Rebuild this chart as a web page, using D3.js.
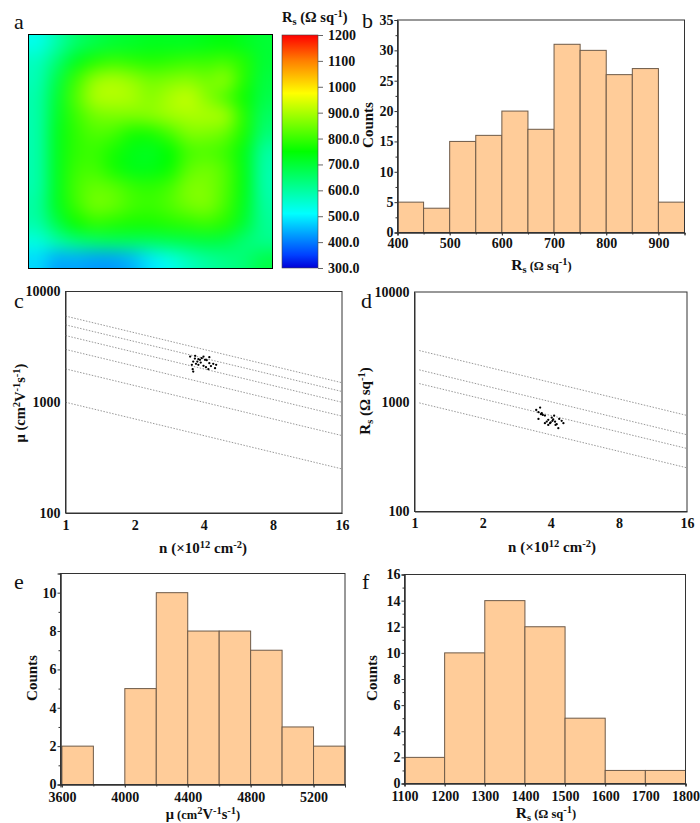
<!DOCTYPE html>
<html>
<head>
<meta charset="utf-8">
<script src="https://cdn.jsdelivr.net/npm/d3@7"></script>
<style>
  html, body { margin: 0; padding: 0; background: #fff; }
  svg { display: block; }
  text { font-family: "Liberation Serif", "Times New Roman", serif; font-weight: 700; fill: #111; }
</style>
</head>
<body>
<svg id="chart" width="700" height="823"></svg>
<script>
// Panel a: sheet resistance map
const mapValues = [
  [530, 590, 650, 680, 700, 710, 720, 720, 720, 730, 740, 720, 700],
  [570, 640, 720, 780, 800, 790, 780, 790, 800, 800, 810, 780, 700],
  [580, 680, 800, 880, 900, 880, 850, 860, 870, 850, 870, 780, 690],
  [590, 700, 820, 900, 910, 900, 870, 900, 920, 870, 820, 760, 680],
  [590, 710, 800, 850, 860, 860, 870, 890, 900, 900, 890, 780, 660],
  [590, 720, 790, 820, 810, 770, 770, 810, 860, 860, 840, 770, 640],
  [590, 720, 790, 800, 770, 730, 720, 750, 810, 820, 800, 730, 600],
  [590, 720, 800, 810, 770, 730, 730, 760, 830, 850, 820, 730, 590],
  [590, 720, 810, 840, 830, 800, 790, 810, 860, 860, 820, 730, 590],
  [600, 720, 800, 850, 840, 810, 800, 820, 850, 860, 810, 720, 600],
  [590, 680, 760, 790, 780, 770, 770, 780, 790, 800, 780, 700, 610],
  [540, 590, 630, 650, 660, 660, 660, 670, 680, 690, 680, 640, 620],
  [480, 440, 440, 430, 430, 450, 490, 530, 570, 600, 620, 640, 680],
]
const colorValues = [300, 350, 510, 750, 975, 1100, 1200]
const colorStops = ['#0000d8', '#0040ff', '#00ffff', '#00ff00', '#ffff00', '#ff8000', '#ff0000']
const colorTicks = [300, 400, 500, 600, 700, 800, 900, 1000, 1100, 1200]
const colorTickLabels = ['300.0', '400.0', '500.0', '600.0', '700.0', '800.0', '900.0', '1000', '1100', '1200']

// Panel b
const binsB = [400, 450, 500, 550, 600, 650, 700, 750, 800, 850, 900, 950]
const countsB = [5, 4, 15, 16, 20, 17, 31, 30, 26, 27, 5]
const xTicksB = [400, 500, 600, 700, 800, 900]
const yTicksB = [0, 5, 10, 15, 20, 25, 30, 35]

// Panel c
const lineStartC = [1000, 2000, 3000, 4000, 5000, 6000]
const lineEndC = [250, 500, 750, 1000, 1250, 1500]
const nC = [3.49, 3.67, 3.79, 3.92, 4.05, 4.23, 3.60, 3.70, 3.55, 3.79, 3.99, 4.09, 4.23, 4.40, 4.53, 4.48, 4.19, 3.58, 3.60, 3.85, 3.99, 3.75, 3.88, 4.12, 4.30, 3.66]
const muC = [2586, 2624, 2449, 2500, 2415, 2553, 2330, 2223, 2176, 2176, 2131, 2073, 2254, 2223, 2176, 2031, 1989, 1989, 1892, 2415, 2586, 2330, 2280, 2400, 2120, 2480]

// Panel d
const lineStartD = [1000, 1500, 2000, 3000]
const lineEndD = [250, 375, 500, 750]
const nD = [3.59, 3.45, 3.53, 3.65, 3.77, 3.53, 3.69, 3.90, 4.04, 4.14, 4.18, 3.97, 3.77, 3.90, 4.25, 4.47, 4.55, 4.32, 4.20, 4.07, 4.36, 3.84, 4.00, 4.10, 3.62]
const rsD = [885, 843, 803, 787, 748, 698, 759, 684, 718, 748, 659, 638, 638, 615, 625, 670, 638, 574, 615, 670, 698, 660, 650, 690, 770]

const logXTicks = [1, 2, 4, 8, 16]
const logYTicks = [100, 1000, 10000]

// Panel e
const binsE = [3600, 3800, 4000, 4200, 4400, 4600, 4800, 5000, 5200, 5400]
const countsE = [2, 0, 5, 10, 8, 8, 7, 3, 2]
const xTicksE = [3600, 4000, 4400, 4800, 5200]
const yTicksE = [0, 2, 4, 6, 8, 10]

// Panel f
const binsF = [1100, 1200, 1300, 1400, 1500, 1600, 1700, 1800]
const countsF = [2, 10, 14, 12, 5, 1, 1]
const xTicksF = [1100, 1200, 1300, 1400, 1500, 1600, 1700, 1800]
const yTicksF = [0, 2, 4, 6, 8, 10, 12, 14, 16]

const svg = d3.select('#chart')
const tickSize = 14
const barFill = '#ffcc99'
const barStroke = '#6e5a48'
const spine = '#333'

svg.append('rect').attr('width', 700).attr('height', 823).attr('fill', '#fff')

function panelLetter(letter, x, y) {
  svg.append('text').attr('x', x).attr('y', y)
    .style('font-size', '22px').style('font-weight', 400)
    .text(letter)
}

// parts are [text, 'sub' | 'sup' | 'small' | null]
function richText(sel, parts) {
  let shift = 0
  parts.forEach(([str, kind]) => {
    const target = kind === 'sub' ? 3 : kind === 'sup' ? -5 : 0
    sel.append('tspan')
      .attr('dy', target - shift)
      .style('font-size', kind === 'sub' || kind === 'sup' ? '10.5px' : kind === 'small' ? '12.5px' : null)
      .text(str)
    shift = target
  })
}

function xTitle(parts, x, y, size) {
  const t = svg.append('text').attr('x', x).attr('y', y)
    .attr('text-anchor', 'middle').style('font-size', `${size}px`)
  richText(t, parts)
}

function yTitle(parts, x, y, size) {
  const t = svg.append('text').attr('transform', `translate(${x},${y}) rotate(-90)`)
    .attr('text-anchor', 'middle').style('font-size', `${size}px`)
  richText(t, parts)
}

function styleAxis(g) {
  g.selectAll('.domain').attr('stroke', spine).attr('stroke-width', 1)
  g.selectAll('line').attr('stroke', spine).attr('stroke-width', 1)
  g.selectAll('text').style('font-size', `${tickSize}px`)
    .style('font-family', '"Liberation Serif", serif').style('font-weight', 700).attr('fill', '#111')
}

function frame(box) {
  svg.append('rect')
    .attr('x', box.x0).attr('y', box.y0)
    .attr('width', box.x1 - box.x0).attr('height', box.y1 - box.y0)
    .attr('fill', 'none').attr('stroke', spine).attr('stroke-width', 1)
}

function histogram(box, bins, counts, xDomain, yMax, xTicks, yTicks, yMinorStep, xPad) {
  const x = d3.scaleLinear().domain(xDomain).range([box.x0, box.x1])
  const y = d3.scaleLinear().domain([0, yMax]).range([box.y1, box.y0])

  svg.append('g').selectAll('rect').data(counts).join('rect')
    .attr('x', (d, i) => x(bins[i]))
    .attr('y', d => y(d))
    .attr('width', (d, i) => x(bins[i + 1]) - x(bins[i]))
    .attr('height', d => y(0) - y(d))
    .attr('fill', barFill)
    .attr('stroke', d => d > 0 ? barStroke : 'none')
    .attr('stroke-width', 1)

  frame(box)

  const minors = d3.range(yMinorStep, yMax, yMinorStep * 2)
  svg.append('g').attr('transform', `translate(${box.x0},0)`)
    .call(d3.axisLeft(y).tickValues(minors).tickSize(2).tickFormat(''))
    .call(styleAxis)
  svg.append('g').attr('transform', `translate(${box.x0},0)`)
    .call(d3.axisLeft(y).tickValues(yTicks).tickSize(3).tickPadding(1).tickFormat(d3.format('d')))
    .call(styleAxis)
  svg.append('g').attr('transform', `translate(0,${box.y1})`)
    .call(d3.axisBottom(x).tickValues(bins).tickSize(2).tickFormat(''))
    .call(styleAxis)
  svg.append('g').attr('transform', `translate(0,${box.y1})`)
    .call(d3.axisBottom(x).tickValues(xTicks).tickSize(3).tickPadding(xPad).tickFormat(d3.format('d')))
    .call(styleAxis)
}

function logPanel(box, starts, ends, lineX0, pointsX, pointsY) {
  const x = d3.scaleLog().base(2).domain([1, 16]).range([box.x0, box.x1])
  const y = d3.scaleLog().domain([100, 10000]).range([box.y1, box.y0])

  frame(box)

  svg.append('g').selectAll('line').data(starts).join('line')
    .attr('x1', x(lineX0))
    .attr('y1', d => y(d * Math.pow(lineX0, -0.5)))
    .attr('x2', x(16))
    .attr('y2', (d, i) => y(ends[i]))
    .attr('stroke', '#999')
    .attr('stroke-width', 1)
    .attr('stroke-dasharray', '1.5,1.5')

  svg.append('g').selectAll('circle').data(pointsX).join('circle')
    .attr('cx', d => x(d))
    .attr('cy', (d, i) => y(pointsY[i]))
    .attr('r', 1.15)
    .attr('fill', '#000')

  svg.append('g').attr('transform', `translate(${box.x0},0)`)
    .call(d3.axisLeft(y).tickValues(logYTicks).tickSize(0).tickPadding(5).tickFormat(d3.format('d')))
    .call(styleAxis)
  svg.append('g').attr('transform', `translate(0,${box.y1})`)
    .call(d3.axisBottom(x).tickValues(logXTicks).tickSize(0).tickPadding(7).tickFormat(d3.format('d')))
    .call(styleAxis)
}

// --- Panel a ---
const mapBox = { x0: 28.5, x1: 272.5, y0: 34.5, y1: 268.5 }
const colorScale = d3.scaleLinear().domain(colorValues).range(colorStops).clamp(true)

const cv = document.createElement('canvas')
cv.width = mapValues[0].length
cv.height = mapValues.length
const ctx = cv.getContext('2d')
mapValues.forEach((row, r) => row.forEach((v, c) => {
  ctx.fillStyle = colorScale(v)
  ctx.fillRect(c, r, 1, 1)
}))

// Upscale with smoothing, then blur on top so the grid does not show
const big = document.createElement('canvas')
big.width = 488
big.height = 468
const bigCtx = big.getContext('2d')
bigCtx.imageSmoothingEnabled = true
bigCtx.imageSmoothingQuality = 'high'
bigCtx.drawImage(cv, 0, 0, big.width, big.height)
bigCtx.filter = 'blur(10px)'
bigCtx.drawImage(big, 0, 0)
bigCtx.filter = 'none'

svg.append('image')
  .attr('x', mapBox.x0).attr('y', mapBox.y0)
  .attr('width', mapBox.x1 - mapBox.x0).attr('height', mapBox.y1 - mapBox.y0)
  .attr('preserveAspectRatio', 'none')
  .attr('href', big.toDataURL())
svg.append('rect')
  .attr('x', mapBox.x0).attr('y', mapBox.y0)
  .attr('width', mapBox.x1 - mapBox.x0).attr('height', mapBox.y1 - mapBox.y0)
  .attr('fill', 'none').attr('stroke', '#000').attr('stroke-width', 1)

// Colour bar
const barBox = { x0: 282, x1: 318, y0: 35, y1: 268 }
const barY = d3.scaleLinear().domain([300, 1200]).range([barBox.y1, barBox.y0])
const grad = svg.append('defs').append('linearGradient')
  .attr('id', 'rsGrad').attr('x1', 0).attr('x2', 0).attr('y1', 1).attr('y2', 0)
grad.selectAll('stop').data(colorValues).join('stop')
  .attr('offset', d => (d - 300) / 900)
  .attr('stop-color', (d, i) => colorStops[i])
svg.append('rect')
  .attr('x', barBox.x0).attr('y', barBox.y0)
  .attr('width', barBox.x1 - barBox.x0).attr('height', barBox.y1 - barBox.y0)
  .attr('fill', 'url(#rsGrad)')
  .attr('stroke', '#444').attr('stroke-width', 0.6)
svg.append('g').attr('transform', `translate(${barBox.x1},0)`)
  .call(d3.axisRight(barY).tickValues(colorTicks).tickSize(5).tickPadding(5)
    .tickFormat((d, i) => colorTickLabels[i]))
  .call(g => g.select('.domain').remove())
  .call(styleAxis)
  .call(g => g.selectAll('line').attr('stroke', '#666'))

const mapTitle = svg.append('text').attr('x', 282).attr('y', 22).style('font-size', '14.5px')
richText(mapTitle, [['R', null], ['s', 'sub'], [' (Ω sq', null], ['-1', 'sup'], [')', null]])

// --- Histograms ---
histogram({ x0: 397.5, x1: 684.5, y0: 20, y1: 232.5 }, binsB, countsB, [400, 950], 35, xTicksB, yTicksB, 2.5, 3)
histogram({ x0: 60.5, x1: 345, y0: 573.5, y1: 784.5 }, binsE, countsE, [3591, 5400], 11, xTicksE, yTicksE, 1, 5)
histogram({ x0: 404.5, x1: 685.5, y0: 574.5, y1: 783.5 }, binsF, countsF, [1100, 1800], 16, xTicksF, yTicksF, 1, 5)

// --- Log panels ---
logPanel({ x0: 65.5, x1: 342, y0: 291.5, y1: 513 }, lineStartC, lineEndC, 1, nC, muC)
logPanel({ x0: 414.5, x1: 687, y0: 292, y1: 511.5 }, lineStartD, lineEndD, 1.05, nD, rsD)

// --- Axis titles ---
const rsTitle = [['R', null], ['s', 'sub'], [' (Ω sq', 'small'], ['-1', 'sup'], [')', 'small']]
const rsTitleBig = [['R', null], ['s', 'sub'], [' (Ω sq', null], ['-1', 'sup'], [')', null]]
const nTitle = [['n (×10', null], ['12', 'sup'], [' cm', null], ['-2', 'sup'], [')', null]]
const muTitle = [['μ (cm', null], ['2', 'sup'], ['V', null], ['-1', 'sup'], ['s', null], ['-1', 'sup'], [')', null]]
const muTitleSmall = [['μ', null], [' (cm', 'small'], ['2', 'sup'], ['V', null], ['-1', 'sup'], ['s', null], ['-1', 'sup'], [')', 'small']]

xTitle(rsTitle, 541.5, 270, 15.5)
yTitle([['Counts', null]], 373, 125, 15)
xTitle(nTitle, 203, 553, 15)
yTitle(muTitle, 25, 403, 14.5)
xTitle(nTitle, 552, 552, 15)
yTitle(rsTitleBig, 370, 401, 15)
xTitle(muTitleSmall, 203, 819, 14.5)
yTitle([['Counts', null]], 37, 678, 15)
xTitle(rsTitle, 546, 818, 15.5)
yTitle([['Counts', null]], 377, 678, 15)

// --- Panel letters ---
panelLetter('a', 14, 29)
panelLetter('b', 362, 28)
panelLetter('c', 14, 308)
panelLetter('d', 361, 308)
panelLetter('e', 14, 589)
panelLetter('f', 362, 589)
</script>
</body>
</html>
